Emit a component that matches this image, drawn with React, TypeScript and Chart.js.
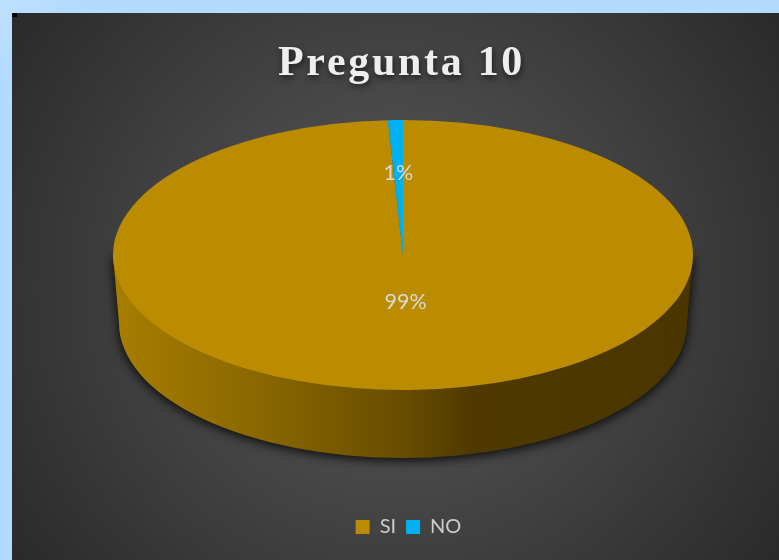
import React, { useEffect, useRef } from "react";
import { Chart, registerables } from "chart.js";

Chart.register(...registerables);

const chartTitle = "Pregunta 10";
const categories = ["SI", "NO"];
const seriesValues = [119, 1];
const sliceColors = ["#bb8c00", "#00b0f0"];
const labelRadii = [0.35, 0.61];

const CENTER_X = 391;
const CENTER_Y = 242;
const SQUASH = 135 / 290;
const BASE_DROP = 68;
const BASE_INSET = 6;

const depthPlugin = {
  id: "depth",
  beforeDraw(chart: any) {
    const title = chart.titleBlock;
    if (title && !title.__patched) {
      const draw = title.draw.bind(title);
      title.draw = () => {
        const ctx = chart.ctx;
        ctx.save();
        ctx.letterSpacing = "2.7px";
        ctx.shadowColor = "rgba(0,0,0,0.6)";
        ctx.shadowBlur = 6;
        ctx.shadowOffsetX = 1;
        ctx.shadowOffsetY = 3;
        draw();
        ctx.restore();
      };
      title.__patched = true;
    }
  },
  afterLayout(chart: any) {
    if (chart.legend) {
      chart.legend.left += 7;
      chart.legend.right += 7;
    }
  },
  beforeDatasetsDraw(chart: any) {
    const ctx = chart.ctx;
    const arc = chart.getDatasetMeta(0).data[0];
    const rx = arc.outerRadius;
    const ry = rx * SQUASH;
    const baseRx = rx - BASE_INSET;
    const baseY = CENTER_Y + BASE_DROP;
    const grad = ctx.createLinearGradient(CENTER_X - rx, 0, CENTER_X + rx, 0);
    grad.addColorStop(0, "#a87e00");
    grad.addColorStop(0.25, "#8a6700");
    grad.addColorStop(0.5, "#684d00");
    grad.addColorStop(0.62, "#4f3900");
    grad.addColorStop(1, "#4a3500");
    ctx.save();
    ctx.shadowColor = "rgba(0,0,0,0.95)";
    ctx.shadowBlur = 12;
    ctx.shadowOffsetY = 2;
    ctx.fillStyle = grad;
    ctx.beginPath();
    ctx.moveTo(CENTER_X - rx, CENTER_Y);
    ctx.lineTo(CENTER_X - baseRx, baseY);
    ctx.ellipse(CENTER_X, baseY, baseRx, ry, 0, Math.PI, 0, true);
    ctx.lineTo(CENTER_X + rx, CENTER_Y);
    ctx.closePath();
    ctx.fill();
    ctx.restore();

    ctx.save();
    ctx.translate(CENTER_X, CENTER_Y);
    ctx.scale(1, SQUASH);
    ctx.translate(-arc.x, -arc.y);
  },
  afterDatasetsDraw(chart: any) {
    const ctx = chart.ctx;
    ctx.restore();
    const data = chart.data.datasets[0].data as number[];
    const total = data.reduce((a, b) => a + b, 0);
    ctx.save();
    ctx.font = "21.5px Lato";
    ctx.fillStyle = "#d9d9d9";
    ctx.textAlign = "center";
    ctx.textBaseline = "middle";
    chart.getDatasetMeta(0).data.forEach((el: any, i: number) => {
      const mid = (el.startAngle + el.endAngle) / 2;
      const r = el.outerRadius * labelRadii[i];
      const x = CENTER_X + Math.cos(mid) * r;
      const y = CENTER_Y + Math.sin(mid) * r * SQUASH;
      ctx.fillText(Math.round((data[i] / total) * 100) + "%", x, y);
    });
    ctx.restore();
  },
};

export default function App() {
  const ref = useRef<HTMLCanvasElement>(null);
  useEffect(() => {
    document.documentElement.style.margin = "0";
    document.body.style.margin = "0";
    document.body.style.overflow = "hidden";
    const chart = new Chart(ref.current as HTMLCanvasElement, {
      type: "pie",
      data: {
        labels: categories,
        datasets: [
          {
            data: seriesValues,
            backgroundColor: sliceColors,
            borderWidth: 0,
            clip: false,
            radius: 290,
          } as any,
        ],
      },
      options: {
        responsive: false,
        animation: false,
        layout: { padding: { left: 12, right: 0, top: 0, bottom: 13 } },
        plugins: {
          tooltip: { enabled: false },
          title: {
            display: true,
            text: chartTitle,
            color: "#eeeeee",
            font: { family: "'Liberation Serif'", size: 42, weight: "bold" },
            padding: { top: 26, bottom: 4 },
          },
          legend: {
            display: true,
            position: "bottom",
            labels: {
              color: "#cccccc",
              font: { family: "Lato", size: 20 },
              boxWidth: 14,
              boxHeight: 14,
              padding: 10,
            },
          },
        },
      } as any,
      plugins: [depthPlugin],
    });
    return () => chart.destroy();
  }, []);
  return (
    <div
      style={{
        position: "relative",
        width: 779,
        height: 560,
        overflow: "hidden",
        background: "linear-gradient(135deg, #c0e1ff 0%, #b3dbff 6%)",
      }}
    >
      <canvas
        ref={ref}
        width={767}
        height={547}
        style={{
          position: "absolute",
          left: 12,
          top: 13,
          background: "radial-gradient(circle 470px at 50% 50%, #5c5c5c 0%, #2a2a2a 100%)",
        }}
      />
      <div style={{ position: "absolute", left: 12, top: 13, width: 5, height: 4, background: "#000" }} />
    </div>
  );
}
